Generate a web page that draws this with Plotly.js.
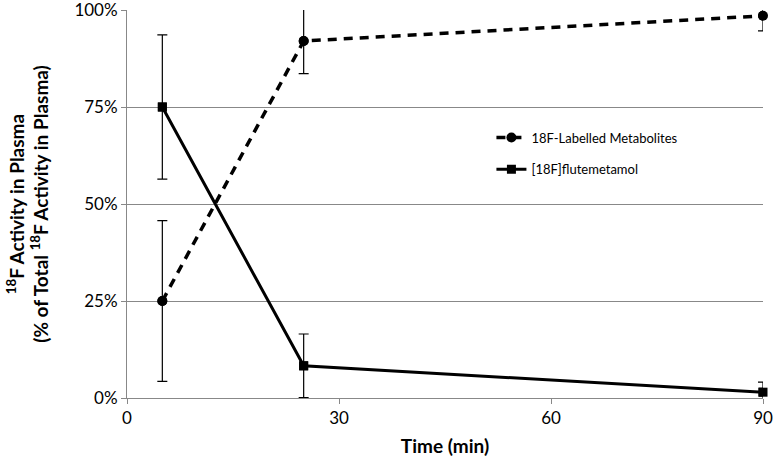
<!DOCTYPE html>
<html><head><meta charset="utf-8">
<script src="https://cdn.plot.ly/plotly-3.0.1.min.js"></script>
<style>body{margin:0}#c{width:774px;height:461px}</style></head>
<body><div id="c"></div>
<script>
const times = [5, 25, 90];
const metabolites = [25, 92, 98.5];
const metabolitesErr = [20.7, 8.4, 3.9];
const flutemetamol = [75, 8.3, 1.5];
const flutemetamolErr = [18.6, 8.2, 2.6];
const xTicks = [0, 30, 60, 90];
const yTicks = [0, 25, 50, 75, 100];
const yTickText = ['0%', '25%', '50%', '75%', '100%'];

const font = 'Lato, "Open Sans", sans-serif';
const err = (a) => ({type:'data', array:a, visible:true, color:'#000', thickness:1.2, width:5});

const traces = [
  {x:times, y:metabolites, name:'18F-Labelled Metabolites', mode:'lines+markers', legendgroup:'a',
   line:{color:'#000', width:3.5, dash:'9px,7px'}, marker:{symbol:'circle', size:10, color:'#000'},
   error_y:err(metabolitesErr), cliponaxis:true},
  {x:times, y:flutemetamol, name:'[18F]flutemetamol', mode:'lines+markers', legendgroup:'b',
   line:{color:'#000', width:3}, marker:{symbol:'square', size:9, color:'#000'},
   error_y:err(flutemetamolErr), cliponaxis:true},
  {x:times, y:metabolites, mode:'markers', showlegend:false, hoverinfo:'skip',
   marker:{symbol:'circle', size:10, color:'#000'}, cliponaxis:false},
  {x:times, y:flutemetamol, mode:'markers', showlegend:false, hoverinfo:'skip',
   marker:{symbol:'square', size:9, color:'#000'}, cliponaxis:false}
];

const layout = {
  width:774, height:461,
  margin:{l:127, r:11, t:10, b:63},
  paper_bgcolor:'#fff', plot_bgcolor:'#fff',
  font:{family:font, color:'#000', size:16},
  showlegend:true,
  legend:{x:0.573, y:0.71, xanchor:'left', yanchor:'top', font:{size:13, family:font},
          tracegroupgap:12, bgcolor:'rgba(0,0,0,0)'},
  xaxis:{range:[0,90], tickmode:'array', tickvals:xTicks, ticks:'outside', ticklen:5, tickcolor:'#888',
         showgrid:false, zeroline:false, showline:true, linecolor:'#888', linewidth:1,
         ticklabeloverflow:'allow',
         tickfont:{size:17}, title:{text:'<b>Time (min)</b>', font:{size:19}, standoff:12}},
  yaxis:{range:[0,100], tickmode:'array', tickvals:yTicks, ticktext:yTickText, ticks:'outside', ticklen:5, tickcolor:'#888',
         showgrid:true, gridcolor:'#888', gridwidth:1, zeroline:false, showline:true, linecolor:'#888',
         ticklabeloverflow:'allow',
         tickfont:{size:17},
         title:{text:'<b><sup>18</sup>F Activity in Plasma<br>(% of Total <sup>18</sup>F Activity in Plasma)</b>', font:{size:19}, standoff:20}}
};
Plotly.newPlot('c', traces, layout, {displayModeBar:false, staticPlot:true});
</script></body></html>
